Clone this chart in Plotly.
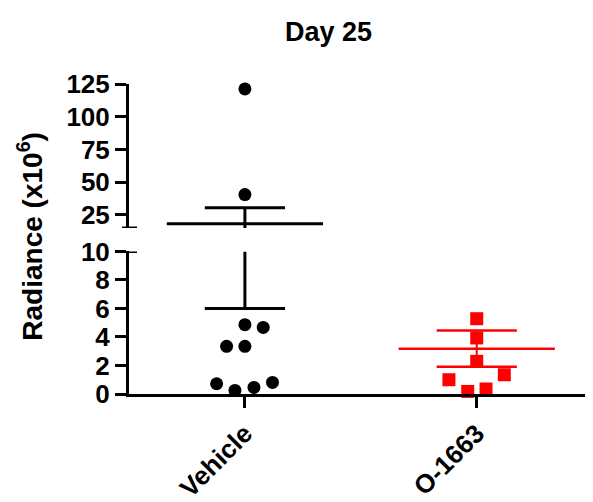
import plotly.graph_objects as go

# ---- data ----
groups = ["Vehicle", "O-1663"]
colors = ["#000000", "#ff0000"]
symbols = ["circle", "square"]

vehicle_values = [121.2, 40.5, 4.86, 4.67, 3.34, 3.34, 0.72, 0.25, 0.46, 0.81]
vehicle_jitter = [0.0, 0.0, 0.0, 0.079, -0.079, 0.0, -0.122, -0.043, 0.039, 0.119]
o1663_values = [5.28, 3.93, 2.29, 1.0, 1.35, 0.18, 0.35]
o1663_jitter = [0.0, 0.0, 0.0, -0.12, 0.119, -0.039, 0.040]

group_means = [18.2, 3.18]
group_sems = [12.2, 1.27]

low_ticks = [0, 2, 4, 6, 8, 10]
high_ticks = [25, 50, 75, 100, 125]
low_range = [0, 10]
high_range = [15, 125]

values = [vehicle_values, o1663_values]
jitters = [vehicle_jitter, o1663_jitter]

# ---- layout geometry ----
W, H = 593, 502
ml, mr, mt, mb = 129, 8, 84, 108
plot_h = H - mt - mb
plot_w = W - ml - mr
low_dom = [0, (394.3 - 251.7) / plot_h]
high_dom = [(394.3 - 228.3) / plot_h, 1]

FONT = "Liberation Sans, Arial, Helvetica, sans-serif"
mean_half = 0.337
cap_half = 0.173

fig = go.Figure()

def axis_for(v):
    return "y2" if v >= high_range[0] else "y"

# points
for i, (vals, jit) in enumerate(zip(values, jitters)):
    for seg, rng in (("y", low_range), ("y2", high_range)):
        xs = [i + j for v, j in zip(vals, jit) if rng[0] <= v <= rng[1]]
        ys = [v for v in vals if rng[0] <= v <= rng[1]]
        if ys:
            fig.add_trace(go.Scatter(
                x=xs, y=ys, mode="markers", yaxis=seg, showlegend=False,
                marker=dict(symbol=symbols[i], size=13, color=colors[i],
                            line=dict(width=0)),
                cliponaxis=False, hoverinfo="skip"))

# mean and SEM
for i in range(len(groups)):
    m, s = group_means[i], group_sems[i]
    lo, hi = m - s, m + s
    c = colors[i]
    lw = 3 if i == 0 else 2.5
    fig.add_trace(go.Scatter(x=[i - mean_half, i + mean_half], y=[m, m],
                             mode="lines", yaxis=axis_for(m), showlegend=False,
                             line=dict(color=c, width=lw), cliponaxis=False,
                             hoverinfo="skip"))
    for v in (lo, hi):
        fig.add_trace(go.Scatter(x=[i - cap_half, i + cap_half], y=[v, v],
                                 mode="lines", yaxis=axis_for(v), showlegend=False,
                                 line=dict(color=c, width=lw), cliponaxis=False,
                                 hoverinfo="skip"))
    for seg, rng in (("y", low_range), ("y2", high_range)):
        a, b = max(lo, rng[0]), min(hi, rng[1])
        if a < b:
            fig.add_trace(go.Scatter(x=[i, i], y=[a, b], mode="lines", yaxis=seg,
                                     showlegend=False,
                                     line=dict(color=c, width=lw - 0.5 if i else lw),
                                     cliponaxis=False, hoverinfo="skip"))

tickfont = dict(family=FONT, size=26, color="black", weight="bold")
axis_common = dict(showline=True, linecolor="black", linewidth=3,
                   ticks="outside", ticklen=11, tickwidth=3, tickcolor="black",
                   showgrid=False, zeroline=False, automargin=False)

fig.update_layout(
    template="none",
    width=W, height=H,
    margin=dict(l=ml, r=mr, t=mt, b=mb, autoexpand=False),
    paper_bgcolor="white", plot_bgcolor="white",
    showlegend=False,
    xaxis=dict(range=[-0.5, 1.467], tickvals=[0, 1], ticktext=groups,
               tickangle=-45,
               tickfont=dict(family=FONT, size=26, color="black", weight="bold"),
               anchor="y", **axis_common),
    yaxis=dict(domain=low_dom, range=low_range, tickvals=low_ticks,
               tickfont=tickfont, anchor="x", **axis_common),
    yaxis2=dict(domain=high_dom, range=high_range, tickvals=high_ticks,
                tickfont=tickfont, anchor="x", **axis_common),
)

# break caps on the y axis
fig.add_shape(type="line", xref="paper", xsizemode="pixel", xanchor=0,
              x0=-7, x1=8, yref="y2", y0=high_range[0], y1=high_range[0],
              line=dict(color="black", width=3))
fig.add_shape(type="line", xref="paper", xsizemode="pixel", xanchor=0,
              x0=0, x1=8, yref="y", y0=low_range[1], y1=low_range[1],
              line=dict(color="black", width=3))

# titles
fig.add_annotation(text="Day 25", xref="paper", yref="paper",
                   x=(328 - ml) / plot_w, y=(394.3 - 32) / plot_h,
                   xanchor="center", yanchor="middle", showarrow=False,
                   font=dict(family=FONT, size=27, color="black", weight="bold"))
fig.add_annotation(text="Radiance (x10<sup>6</sup>)", xref="paper", yref="paper",
                   x=(30 - ml) / plot_w, y=(394.3 - 237) / plot_h,
                   xanchor="center", yanchor="middle", textangle=-90, showarrow=False,
                   font=dict(family=FONT, size=28, color="black", weight="bold"))

fig.write_html("out.html", config={"displayModeBar": False},
               post_script="document.body.style.margin='0';")
